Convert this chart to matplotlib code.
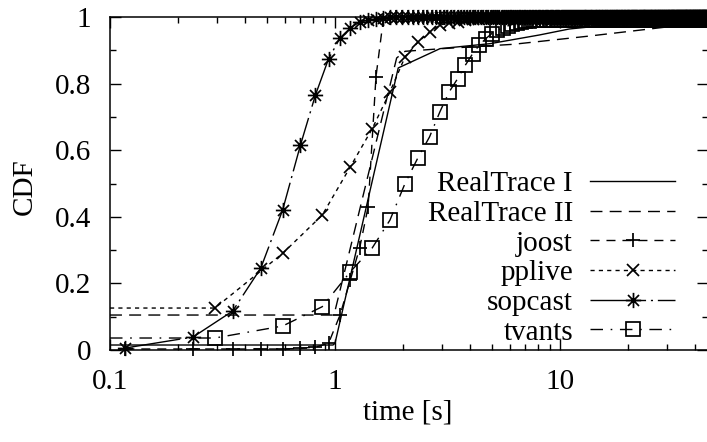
import numpy as np
import matplotlib
matplotlib.use('Agg')
import matplotlib.pyplot as plt
from matplotlib.path import Path

plt.rcParams['font.family'] = ['Liberation Serif', 'DejaVu Serif']
plt.rcParams['font.size'] = 21
plt.rcParams['lines.scale_dashes'] = False

# sampling steps of the per-client CDFs (seconds)
step_fine = 0.117     # joost, sopcast
step_coarse = 0.2925  # pplive, tvants
x_max = 45.5

# measured traces (no markers)
rt1_t = [0.1, 0.98, 1.0, 1.91, 2.93, 4.9, 8.1, 11.0, 16.0, 45.5]
rt1_cdf = [0.015, 0.015, 0.02, 0.847, 0.905, 0.92, 0.946, 0.964, 0.975, 0.995]
rt2_t = [0.1, 0.99, 1.88, 2.05, 3.0, 6.2, 13.6, 29.8, 45.5]
rt2_cdf = [0.105, 0.105, 0.877, 0.897, 0.905, 0.918, 0.943, 0.97, 0.985]

# client CDFs, first samples; the rest stay at the tail value
joost_cdf = [0.003, 0.003, 0.003, 0.003, 0.003, 0.005, 0.009, 0.02, 0.105,
             0.21, 0.306, 0.43, 0.82, 0.99, 0.998]
joost_tail = 1.0
sopcast_cdf = [0.006, 0.039, 0.117, 0.246, 0.42, 0.615, 0.766, 0.874, 0.937,
               0.967, 0.985, 0.99, 0.995, 0.998]
sopcast_tail = 1.0
pplive_start = 0.126
pplive_cdf = [0.126, 0.29, 0.405, 0.55, 0.664, 0.775, 0.88, 0.925, 0.955,
              0.976, 0.982, 0.986, 0.99, 0.993, 0.995, 0.997, 0.998, 0.999]
pplive_tail = 1.0
tvants_start = 0.036
tvants_cdf = [0.036, 0.072, 0.13, 0.235, 0.306, 0.39, 0.50, 0.578, 0.64,
              0.715, 0.775, 0.815, 0.856, 0.89, 0.916, 0.935, 0.95, 0.96,
              0.967, 0.973, 0.978, 0.982, 0.985, 0.987, 0.989]
tvants_tail = 0.99


def series(step, head, tail):
    t = step * np.arange(1, int(x_max / step) + 1)
    y = np.concatenate([head, np.full(len(t) - len(head), tail)])
    return t, y


# gnuplot-like point type 3: plus and cross on top of each other
star = Path([(-1, 0), (1, 0), (0, -1), (0, 1),
             (-0.72, -0.72), (0.72, 0.72), (-0.72, 0.72), (0.72, -0.72)],
            [Path.MOVETO, Path.LINETO] * 4)

W, H = 707, 442
fig = plt.figure(figsize=(W / 100, H / 100), dpi=100)
ax = fig.add_axes([110 / W, (H - 350) / H, (708 - 110) / W, (350 - 17) / H])

lw = 1.0
mw = 1.25
ax.plot(rt1_t, rt1_cdf, color='k', lw=lw, label='RealTrace I')
ax.plot(rt2_t, rt2_cdf, color='k', lw=lw, dashes=(8.6, 5.2), label='RealTrace II')

t, y = series(step_fine, joost_cdf, joost_tail)
ax.plot(t, y, color='k', lw=lw, dashes=(6.5, 5), marker='+', ms=9.4, mew=mw,
        clip_on=False, label='joost')

t, y = series(step_coarse, pplive_cdf, pplive_tail)
ax.plot(np.r_[0.1, t], np.r_[pplive_start, y], color='k', lw=lw, dashes=(3, 3),
        marker='x', ms=9.0, mew=mw, markevery=slice(1, None), clip_on=False,
        label='pplive')

t, y = series(step_fine, sopcast_cdf, sopcast_tail)
ax.plot(t, y, color='k', lw=lw, dashes=(40, 3.5, 1.5, 3.5), marker=star, ms=11,
        mew=mw, clip_on=False, label='sopcast')

t, y = series(step_coarse, tvants_cdf, tvants_tail)
ax.plot(np.r_[0.1, t], np.r_[tvants_start, y], color='k', lw=lw,
        dashes=(9, 5.5, 1.2, 5.5), marker='s', ms=10.5, mew=mw, mfc='none',
        markevery=slice(1, None), clip_on=False, label='tvants')

ax.set_xscale('log')
ax.set_xlim(0.1, x_max)
ax.set_ylim(0, 1)
ax.set_yticks([0, 0.2, 0.4, 0.6, 0.8, 1.0])
ax.set_yticklabels(['0', '0.2', '0.4', '0.6', '0.8', '1'])
ax.set_yticks([0.1, 0.3, 0.5, 0.7, 0.9], minor=True)
ax.set_xticks([0.1, 1, 10])
ax.set_xticklabels(['0.1', '1', '10'])
ax.tick_params(which='both', direction='in', top=True, right=True, width=1.0)
ax.tick_params(which='major', length=8)
ax.tick_params(which='minor', length=4)
ax.tick_params(axis='x', pad=14)
ax.tick_params(axis='y', pad=13.5)
for s in ax.spines.values():
    s.set_linewidth(1.1)

fig.text(25 / W, 1 - 187 / H, 'CDF', rotation=90, ha='center', va='center')
fig.text(408 / W, 1 - 412 / H, 'time [s]', ha='center', va='center')

ax.legend(loc='upper right', bbox_to_anchor=(675 / W, 1 - 171 / H),
          bbox_transform=fig.transFigure, frameon=False, markerfirst=False,
          numpoints=1, handlelength=2.9, handletextpad=0.6,
          labelspacing=0.11, borderpad=0, borderaxespad=0)

fig.savefig('out.png', dpi=100)
